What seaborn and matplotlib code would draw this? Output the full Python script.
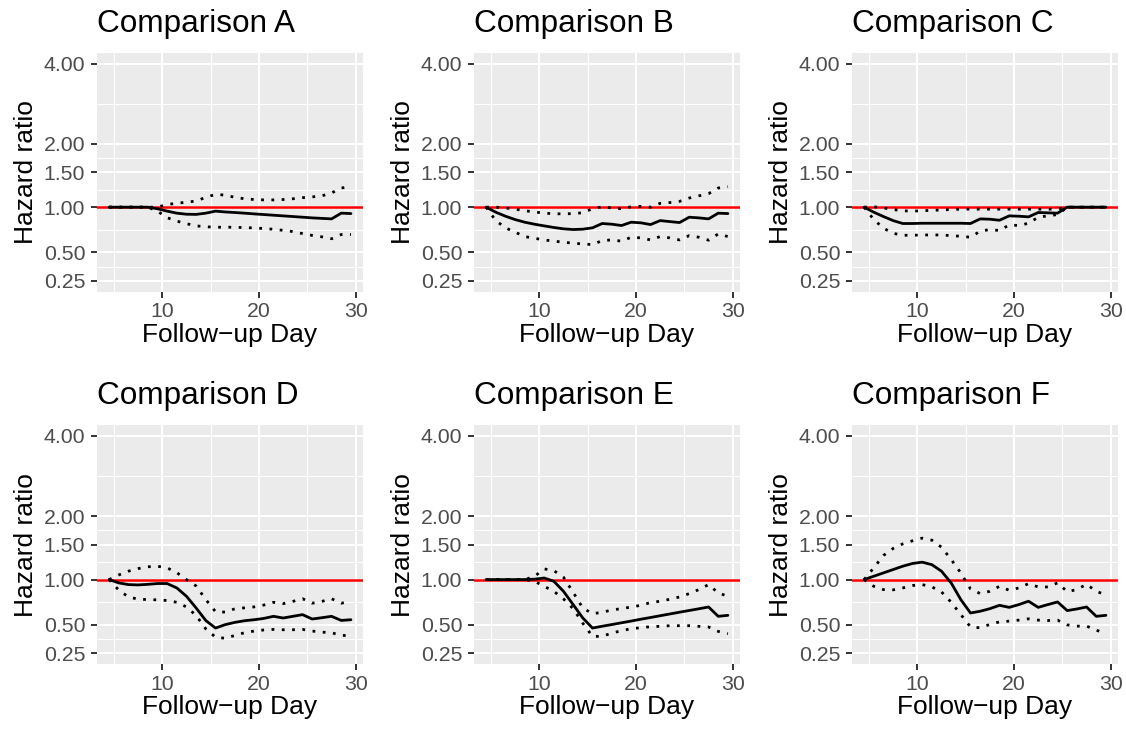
import numpy as np
import pandas as pd
import matplotlib
matplotlib.use("Agg")
import matplotlib.pyplot as plt
import seaborn as sns
from matplotlib.ticker import FixedLocator, NullFormatter

# ---------------- data ----------------
days = [4.5, 5.5, 6.5, 7.5, 8.5, 9.5, 10.5, 11.5, 12.5, 13.5, 14.5, 15.5, 16.5,
        17.5, 18.5, 19.5, 20.5, 21.5, 22.5, 23.5, 24.5, 25.5, 26.5, 27.5, 28.5, 29.5]

panels = ["A", "B", "C", "D", "E", "F"]

hr_A = [1.0, 1.0, 1.0, 1.0, 1.0, 0.98, 0.95, 0.925, 0.912, 0.91, 0.925, 0.95, 0.94,
        0.933, 0.925, 0.916, 0.908, 0.90, 0.892, 0.884, 0.876, 0.868, 0.862, 0.856, 0.925, 0.92]
lo_A = [1.0, 1.0, 1.0, 1.0, 1.0, 0.95, 0.87, 0.83, 0.80, 0.775, 0.765, 0.76, 0.76,
        0.76, 0.755, 0.752, 0.745, 0.737, 0.725, 0.712, 0.69, 0.67, 0.655, 0.635, 0.68, 0.68]
hi_A = [1.0, 1.0, 1.0, 1.0, 1.0, 1.0, 1.035, 1.05, 1.065, 1.08, 1.13, 1.17, 1.16,
        1.13, 1.11, 1.10, 1.095, 1.095, 1.10, 1.11, 1.125, 1.135, 1.15, 1.19, 1.26, 1.28]

hr_B = [1.0, 0.937, 0.888, 0.848, 0.817, 0.794, 0.775, 0.757, 0.742, 0.734, 0.738, 0.753, 0.802,
        0.794, 0.779, 0.817, 0.81, 0.79, 0.836, 0.824, 0.813, 0.876, 0.868, 0.856, 0.925, 0.92]
lo_B = [1.0, 0.836, 0.753, 0.705, 0.658, 0.64, 0.623, 0.61, 0.60, 0.589, 0.582, 0.575, 0.616,
        0.623, 0.61, 0.651, 0.644, 0.623, 0.658, 0.644, 0.623, 0.668, 0.651, 0.62, 0.686, 0.658]
hi_B = [1.0, 1.0, 0.99, 0.975, 0.955, 0.94, 0.925, 0.918, 0.916, 0.92, 0.93, 0.98, 1.005,
        0.99, 0.98, 1.005, 1.01, 1.0, 1.05, 1.06, 1.075, 1.12, 1.15, 1.18, 1.26, 1.28]

hr_C = [1.0, 0.937, 0.884, 0.836, 0.802, 0.802, 0.805, 0.805, 0.805, 0.805, 0.805, 0.802, 0.856,
        0.852, 0.84, 0.892, 0.888, 0.88, 0.933, 0.929, 0.925, 1.0, 1.0, 1.0, 1.0, 1.0]
lo_C = [1.0, 0.848, 0.749, 0.693, 0.672, 0.672, 0.675, 0.675, 0.675, 0.668, 0.661, 0.651, 0.716,
        0.734, 0.723, 0.786, 0.779, 0.805, 0.876, 0.892, 0.908, 1.0, 1.0, 1.0, 1.0, 1.0]
hi_C = [1.0, 1.005, 0.99, 0.97, 0.955, 0.95, 0.955, 0.96, 0.965, 0.97, 0.975, 0.975, 0.975,
        0.975, 0.975, 0.975, 0.975, 0.975, 0.975, 0.975, 0.975, 1.0, 1.0, 1.0, 1.0, 1.0]

hr_D = [1.0, 0.958, 0.937, 0.933, 0.94, 0.95, 0.95, 0.896, 0.798, 0.668, 0.54, 0.468, 0.50,
        0.522, 0.538, 0.548, 0.561, 0.582, 0.565, 0.582, 0.599, 0.555, 0.568, 0.582, 0.541, 0.548]
lo_D = [1.0, 0.87, 0.79, 0.765, 0.76, 0.757, 0.75, 0.73, 0.68, 0.59, 0.46, 0.385, 0.375,
        0.40, 0.425, 0.44, 0.45, 0.455, 0.452, 0.452, 0.455, 0.44, 0.43, 0.425, 0.40, 0.40]
hi_D = [1.0, 1.06, 1.11, 1.145, 1.17, 1.178, 1.155, 1.09, 1.0, 0.92, 0.76, 0.63, 0.625,
        0.66, 0.67, 0.68, 0.70, 0.73, 0.715, 0.74, 0.77, 0.72, 0.74, 0.77, 0.72, 0.74]

hr_E = [1.0, 1.0, 1.0, 1.0, 1.0, 1.005, 1.02, 0.979, 0.856, 0.705, 0.565, 0.468, 0.485,
        0.501, 0.518, 0.535, 0.553, 0.570, 0.588, 0.606, 0.624, 0.642, 0.660, 0.679, 0.582, 0.592]
lo_E = [1.0, 1.0, 1.0, 1.0, 1.0, 0.979, 0.916, 0.856, 0.768, 0.661, 0.513, 0.392, 0.392,
        0.422, 0.443, 0.462, 0.471, 0.481, 0.484, 0.49, 0.49, 0.49, 0.484, 0.478, 0.437, 0.416]
hi_E = [1.0, 1.0, 1.0, 1.0, 1.0, 1.04, 1.141, 1.118, 1.03, 0.844, 0.668, 0.609, 0.623,
        0.648, 0.661, 0.679, 0.697, 0.727, 0.742, 0.764, 0.79, 0.829, 0.876, 0.937, 0.836, 0.798]

hr_F = [1.0, 1.043, 1.087, 1.132, 1.178, 1.216, 1.235, 1.2, 1.11, 0.958, 0.76, 0.616, 0.634,
        0.661, 0.697, 0.675, 0.705, 0.742, 0.675, 0.705, 0.734, 0.641, 0.658, 0.679, 0.582, 0.592]
lo_F = [1.0, 0.916, 0.876, 0.873, 0.896, 0.925, 0.937, 0.909, 0.849, 0.731, 0.60, 0.479, 0.47,
        0.502, 0.527, 0.534, 0.544, 0.557, 0.544, 0.54, 0.544, 0.498, 0.486, 0.486, 0.448, 0.418]
hi_F = [1.0, 1.155, 1.332, 1.439, 1.512, 1.561, 1.605, 1.572, 1.459, 1.273, 1.087, 0.884, 0.829,
        0.856, 0.916, 0.868, 0.896, 0.949, 0.908, 0.908, 0.958, 0.852, 0.876, 0.941, 0.856, 0.813]

y_breaks = [0.25, 0.50, 1.00, 1.50, 2.00, 4.00]
y_labels = ["0.25", "0.50", "1.00", "1.50", "2.00", "4.00"]
x_breaks = [10, 20, 30]
x_minor = [5, 15, 25]

series = {
    "A": (hr_A, lo_A, hi_A), "B": (hr_B, lo_B, hi_B), "C": (hr_C, lo_C, hi_C),
    "D": (hr_D, lo_D, hi_D), "E": (hr_E, lo_E, hi_E), "F": (hr_F, lo_F, hi_F),
}

rows = []
for p in panels:
    hr, lo, hi = series[p]
    for d, a, b, c in zip(days, hr, lo, hi):
        rows.append({"panel": p, "day": d, "hr": a, "lo": b, "hi": c})
df = pd.DataFrame(rows)

# ---------------- style ----------------
sns.set_theme(style="darkgrid", rc={"axes.facecolor": "#EBEBEB", "grid.color": "white"})
plt.rcParams["font.family"] = ["Liberation Sans", "DejaVu Sans"]

W, H = 1126, 732
fig = plt.figure(figsize=(W / 100, H / 100), dpi=100)
fig.patch.set_facecolor("white")

col_left = [97, 474, 852]
row_top = [52.7, 425.1]
pw, ph = 266, 239

fwd = np.log1p
inv = np.expm1
t_lo, t_hi = fwd(min(y_breaks)), fwd(max(y_breaks))
pad_t = 0.05 * (t_hi - t_lo)
ylim = (inv(t_lo - pad_t), inv(t_hi + pad_t))
tb = fwd(np.array(y_breaks))
y_minor = list(inv((tb[:-1] + tb[1:]) / 2))
xr = max(days) - min(days)
xlim = (min(days) - 0.05 * xr, max(days) + 0.05 * xr)

dotted = (0, (1, 2.7))

for i, p in enumerate(panels):
    r, c = divmod(i, 3)
    ax = fig.add_axes([col_left[c] / W, 1 - (row_top[r] + ph) / H, pw / W, ph / H])
    ax.set_yscale("function", functions=(fwd, inv))
    sub = df[df["panel"] == p]
    ax.axhline(1.0, color="#FF0000", lw=1.8, zorder=2)
    sns.lineplot(data=sub, x="day", y="hr", ax=ax, color="black", lw=2.0,
                 estimator=None, sort=False, zorder=3)
    sns.lineplot(data=sub, x="day", y="lo", ax=ax, color="black", lw=2.0,
                 linestyle=dotted, dash_capstyle="butt",
                 estimator=None, sort=False, zorder=3)
    sns.lineplot(data=sub, x="day", y="hi", ax=ax, color="black", lw=2.0,
                 linestyle=dotted, dash_capstyle="butt",
                 estimator=None, sort=False, zorder=3)

    ax.set_xlim(*xlim)
    ax.set_ylim(*ylim)
    ax.yaxis.set_major_locator(FixedLocator(y_breaks))
    ax.set_yticklabels(y_labels)
    ax.yaxis.set_minor_locator(FixedLocator(y_minor))
    ax.yaxis.set_minor_formatter(NullFormatter())
    ax.xaxis.set_major_locator(FixedLocator(x_breaks))
    ax.set_xticklabels([str(v) for v in x_breaks])
    ax.xaxis.set_minor_locator(FixedLocator(x_minor))
    ax.xaxis.set_minor_formatter(NullFormatter())

    ax.grid(which="major", color="white", lw=1.45)
    ax.grid(which="minor", color="white", lw=0.72)
    ax.set_axisbelow(True)
    for s in ax.spines.values():
        s.set_visible(False)

    ax.tick_params(which="major", bottom=True, left=True, length=4.0, width=1.4,
                   color="#333333", labelcolor="#4D4D4D", labelsize=15.3)
    ax.tick_params(axis="x", which="major", pad=3.5)
    ax.tick_params(axis="y", which="major", pad=4.5)
    ax.tick_params(which="minor", length=0)

    ax.set_title(f"Comparison {p}", loc="left", fontsize=22.7, pad=15, color="black")
    ax.set_xlabel("Follow\u2212up Day", fontsize=19, labelpad=1, color="black")
    ax.set_ylabel("Hazard ratio", fontsize=19, labelpad=4, color="black")

fig.savefig("out.png", dpi=100, facecolor="white")
